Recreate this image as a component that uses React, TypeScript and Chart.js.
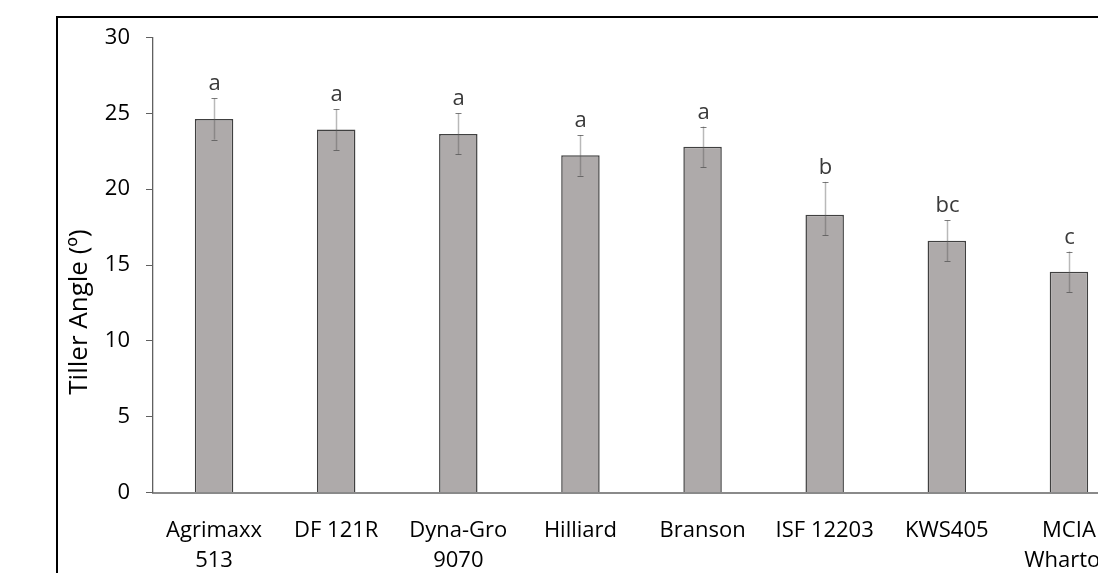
import React, { useEffect, useRef } from "react";
import { Chart, registerables } from "chart.js";

Chart.register(...registerables);

// Winter wheat varieties (multi-line category labels)
const varieties: string[][] = [
  ["Agrimaxx", "513"],
  ["DF 121R"],
  ["Dyna-Gro", "9070"],
  ["Hilliard"],
  ["Branson"],
  ["ISF 12203"],
  ["KWS405"],
  ["MCIA", "Wharton"],
];

// Mean tiller angle (degrees)
const tillerAngle = [24.63, 23.93, 23.64, 22.23, 22.79, 18.32, 16.6, 14.55];

// Standard error, below and above the mean
const errLow = [1.36, 1.35, 1.35, 1.34, 1.34, 1.36, 1.34, 1.34];
const errHigh = [1.36, 1.35, 1.35, 1.34, 1.34, 2.16, 1.34, 1.34];

// Mean separation letters
const groupLetters = ["a", "a", "a", "a", "a", "b", "bc", "c"];

// Y-axis tick values
const yTicks = [0, 5, 10, 15, 20, 25, 30];

const FONT = '"Open Sans", "Noto Sans", sans-serif';

const errorBarPlugin = {
  id: "errorBars",
  afterDatasetsDraw(chart: any) {
    const { ctx } = chart;
    const y = chart.scales.y;
    const meta = chart.getDatasetMeta(0);
    ctx.save();
    meta.data.forEach((bar: any, i: number) => {
      const x = Math.round(bar.x) + 0.5;
      const top = y.getPixelForValue(tillerAngle[i] + errHigh[i]);
      const bottom = y.getPixelForValue(tillerAngle[i] - errLow[i]);
      ctx.strokeStyle = "rgba(89,89,89,0.42)";
      ctx.lineWidth = 1.5;
      ctx.beginPath();
      ctx.moveTo(x, top);
      ctx.lineTo(x, bottom);
      ctx.stroke();
      ctx.strokeStyle = "rgba(80,80,80,0.75)";
      ctx.lineWidth = 1;
      ctx.beginPath();
      ctx.moveTo(x - 3, Math.round(top) + 0.5);
      ctx.lineTo(x + 3, Math.round(top) + 0.5);
      ctx.moveTo(x - 3, Math.round(bottom) + 0.5);
      ctx.lineTo(x + 3, Math.round(bottom) + 0.5);
      ctx.stroke();

      ctx.fillStyle = "#3a3a3a";
      ctx.font = `22px ${FONT}`;
      ctx.textAlign = "center";
      ctx.textBaseline = "alphabetic";
      ctx.fillText(groupLetters[i], x, top - 8);
    });
    ctx.restore();
  },
};

const yTitlePlugin = {
  id: "yTitle",
  afterDraw(chart: any) {
    const { ctx } = chart;
    ctx.save();
    ctx.translate(80, 312);
    ctx.rotate(-Math.PI / 2);
    ctx.fillStyle = "#000";
    ctx.font = `26px ${FONT}`;
    ctx.textAlign = "center";
    ctx.textBaseline = "middle";
    ctx.fillText("Tiller Angle (º)", 0, 0);
    ctx.restore();
  },
};

export default function App() {
  const canvasRef = useRef<HTMLCanvasElement | null>(null);

  useEffect(() => {
    if (!canvasRef.current) return;
    const chart = new Chart(canvasRef.current, {
      type: "bar",
      data: {
        labels: varieties,
        datasets: [
          {
            data: tillerAngle,
            backgroundColor: "#AEAAAA",
            borderColor: "#404040",
            borderWidth: 1.5,
            categoryPercentage: 0.315,
            barPercentage: 1,
          },
        ],
      },
      options: {
        animation: false,
        responsive: false,
        devicePixelRatio: 1,
        layout: { padding: { left: 0, top: 37.5, right: 10, bottom: 0 } },
        plugins: {
          legend: { display: false },
          tooltip: { enabled: false },
        },
        scales: {
          x: {
            grid: { display: false, drawTicks: false },
            border: { display: true, color: "#8a8a8a", width: 2 },
            ticks: {
              color: "#000",
              font: { family: FONT, size: 22, lineHeight: 1.36 },
              padding: 23,
              maxRotation: 0,
              autoSkip: false,
            },
            afterFit(scale: any) {
              scale.height = 107.5;
            },
          },
          y: {
            min: 0,
            max: 30,
            afterBuildTicks(scale: any) {
              scale.ticks = yTicks.map((v) => ({ value: v }));
            },
            grid: {
              display: true,
              drawOnChartArea: false,
              drawTicks: true,
              tickLength: 7,
              color: "#606060",
              lineWidth: 1,
            },
            border: { display: true, color: "#606060", width: 1.3 },
            ticks: {
              color: "#000",
              font: { family: FONT, size: 22 },
              padding: 16,
            },
            afterFit(scale: any) {
              scale.width = 153;
            },
          },
        },
      },
      plugins: [errorBarPlugin, yTitlePlugin],
    });
    return () => chart.destroy();
  }, []);

  return (
    <div
      style={{
        position: "fixed",
        left: 0,
        top: 0,
        width: 1098,
        height: 573,
        overflow: "hidden",
        background: "#fff",
      }}
    >
      <div
        style={{
          position: "absolute",
          left: 56,
          top: 16,
          width: 1200,
          height: 700,
          borderLeft: "2px solid #000",
          borderTop: "2px solid #000",
        }}
      />
      <canvas
        ref={canvasRef}
        width={1140}
        height={600}
        style={{ position: "absolute", left: 0, top: 0, width: 1140, height: 600 }}
      />
    </div>
  );
}
